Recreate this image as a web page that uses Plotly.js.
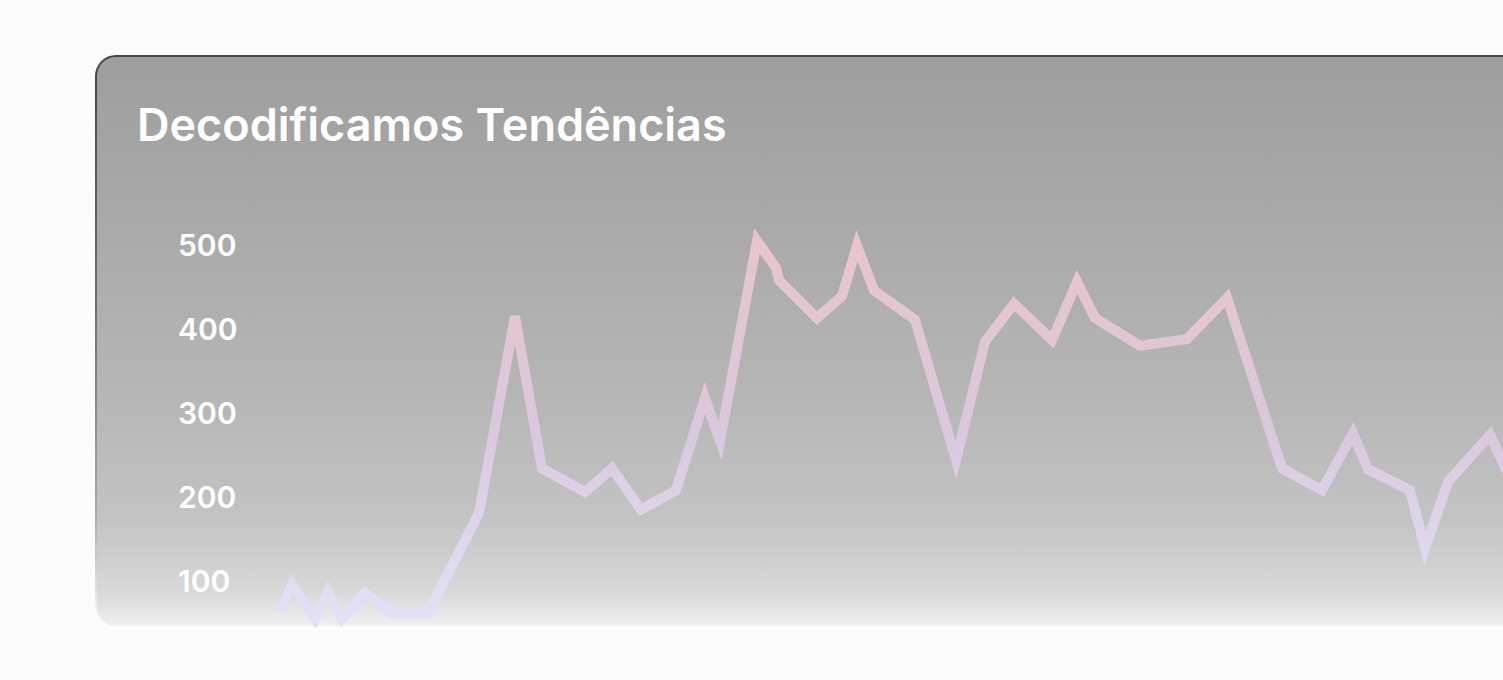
<!DOCTYPE html>
<html>
<head>
<meta charset="utf-8">
<script src="https://cdn.plot.ly/plotly-3.0.1.min.js"></script>
<style>
  html, body { margin:0; padding:0; background:#fcfcfc; overflow:hidden; width:1503px; height:680px; }
  #frame { position:absolute; left:95px; top:55px; width:1700px; height:571px; border-radius:21px;
           background:linear-gradient(180deg,#464646 0%,#707070 45%,#a8a8a8 80%,rgba(240,240,240,0) 100%);
           padding:2px 0 0 2px; box-sizing:border-box; }
  #card { width:100%; height:100%; border-radius:19px;
          background:linear-gradient(180deg,#9e9e9e 0%,#a9a9a9 29%,#b6b6b6 60%,#c3c3c3 81%,#d8d8d8 94%,#f0f0f0 100%); }
  #chart { position:absolute; left:0; top:0; width:1800px; height:680px; }
</style>
</head>
<body>
<div id="frame"><div id="card"></div></div>
<div id="chart"></div>
<script>
const chartTitle = "Decodificamos Tendências";
const xValues = [0, 12, 35, 48, 62, 85, 110, 148, 199, 235, 262, 305, 332, 361, 396, 425, 440, 477, 496, 499,
                 537, 562, 577, 594, 635, 676, 705, 734, 772, 797, 815, 860, 907, 947, 1002, 1042, 1073, 1088,
                 1130, 1145, 1168, 1210, 1232];
const yValues = [63, 96, 55, 87, 55, 86, 62, 62, 181, 415, 234, 206, 234, 185, 208, 318, 267, 505, 473, 458,
                 413, 439, 499, 446, 411, 244, 385, 430, 387, 456, 413, 380, 388, 437, 234, 208, 276, 233,
                 208, 139, 218, 274, 217];
const yTickValues = [100, 200, 300, 400, 500];
const yTickLabels = ["100", "200", "300", "400", "500"];

const trace = {
  x: xValues, y: yValues, type: "scatter", mode: "lines",
  line: { color: "#dcc8de", width: 10 },
  hoverinfo: "skip"
};

const layout = {
  width: 1800, height: 680,
  margin: { l: 170, r: 0, t: 200, b: 15 },
  paper_bgcolor: "rgba(0,0,0,0)", plot_bgcolor: "rgba(0,0,0,0)",
  showlegend: false,
  font: { family: "Inter, sans-serif", color: "#ffffff" },
  title: {
    text: chartTitle,
    font: { family: "Inter, sans-serif", size: 45, weight: 600, color: "#ffffff" },
    xref: "container", x: 137 / 1800, xanchor: "left",
    yref: "container", y: 1 - 125 / 680, yanchor: "middle"
  },
  xaxis: { visible: false, range: [-110, 1520], fixedrange: true },
  yaxis: {
    range: [0, 553.6], showgrid: false, zeroline: false, showline: false, ticks: "",
    tickvals: yTickValues, ticktext: yTickLabels, ticklabelposition: "inside",
    tickfont: { family: "Inter, sans-serif", size: 30, weight: 600, color: "#ffffff" },
    ticklabelstandoff: 5, fixedrange: true
  }
};

Plotly.newPlot("chart", [trace], layout, { staticPlot: true, displayModeBar: false, responsive: false }).then(function (gd) {
  const svgNS = "http://www.w3.org/2000/svg";
  const defs = gd.querySelector(".main-svg defs");
  const grad = document.createElementNS(svgNS, "linearGradient");
  grad.setAttribute("id", "lineGrad");
  grad.setAttribute("x1", "0"); grad.setAttribute("y1", "0");
  grad.setAttribute("x2", "0"); grad.setAttribute("y2", "1");
  [["0", "#e8c5cb"], ["0.5", "#dac8dd"], ["1", "#e3e1f7"]].forEach(function (s) {
    const st = document.createElementNS(svgNS, "stop");
    st.setAttribute("offset", s[0]); st.setAttribute("stop-color", s[1]);
    grad.appendChild(st);
  });
  defs.appendChild(grad);
  gd.querySelectorAll(".scatterlayer .js-line").forEach(function (p) {
    p.style.stroke = "url(#lineGrad)";
    p.style.strokeLinejoin = "miter";
    p.style.strokeMiterlimit = "4";
  });
});
</script>
</body>
</html>
